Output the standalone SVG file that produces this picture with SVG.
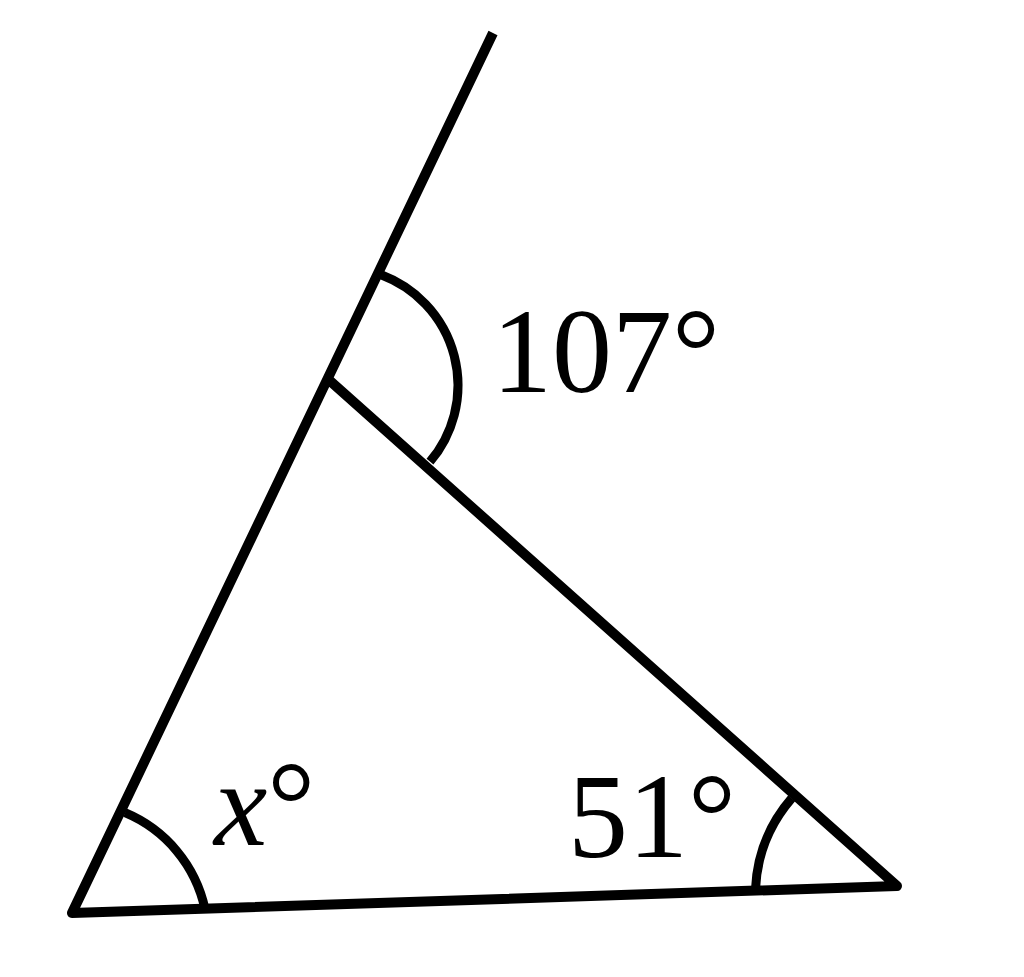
<svg xmlns="http://www.w3.org/2000/svg" width="1024" height="977" viewBox="0 0 1024 977">
<style>
.ln{fill:none;stroke:#000;stroke-width:10;stroke-linejoin:round}
.arc{fill:none;stroke:#000;stroke-width:9}
.lbl{font-size:120px;fill:#000}
</style>
<rect width="1024" height="977" fill="#fff"/>
<g id="connectors">
<path class="ln" d="M493,33 L72,913 L897,886 L329,380"/>
</g>
<g id="angle-x">
<path class="arc" d="M125,812.7 A135,135 0 0 1 205,909"/>
<text class="lbl" font-family="Liberation Serif, serif" x="214" y="845"><tspan font-style="italic">x</tspan>°</text>
</g>
<g id="angle-51">
<path class="arc" d="M791.7,798.3 A149,149 0 0 0 755.5,889"/>
<text class="lbl" font-family="Liberation Serif, serif" x="568" y="857">51°</text>
</g>
<g id="angle-107">
<path class="arc" d="M381.7,275 A118,118 0 0 1 430,461.7"/>
<text class="lbl" font-family="Liberation Serif, serif" x="492" y="392">107°</text>
</g>
</svg>
